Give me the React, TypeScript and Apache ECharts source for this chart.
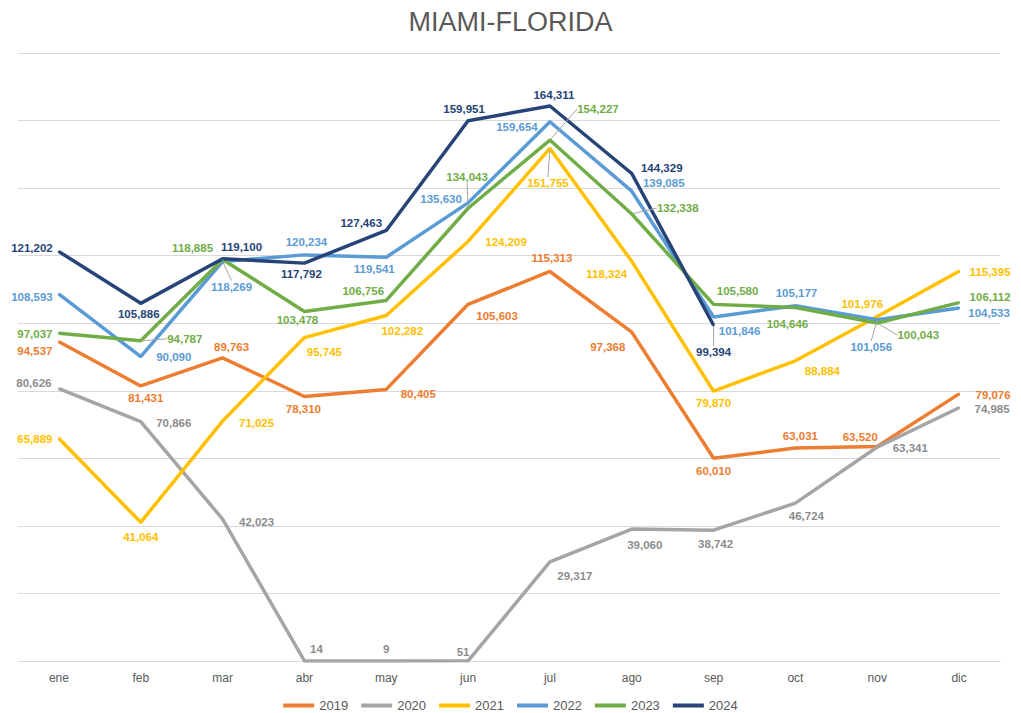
import React, { useEffect, useRef } from "react";
import * as echarts from "echarts";

const months = ["ene", "feb", "mar", "abr", "may", "jun", "jul", "ago", "sep", "oct", "nov", "dic"];
const years = ["2019", "2020", "2021", "2022", "2023", "2024"];

const v2019 = [94537, 81431, 89763, 78310, 80405, 105603, 115313, 97368, 60010, 63031, 63520, 79076];
const v2020 = [80626, 70866, 42023, 14, 9, 51, 29317, 39060, 38742, 46724, 63341, 74985];
const v2021 = [65889, 41064, 71025, 95745, 102282, 124209, 151755, 118324, 79870, 88884, 101976, 115395];
const v2022 = [108593, 90090, 118269, 120234, 119541, 135630, 159654, 139085, 101846, 105177, 101056, 104533];
const v2023 = [97037, 94787, 118885, 103478, 106756, 134043, 154227, 132338, 105580, 104646, 100043, 106112];
const v2024 = [121202, 105886, 119100, 117792, 127463, 159951, 164311, 144329, 99394, null, null, null];

const seriesValues = [v2019, v2020, v2021, v2022, v2023, v2024];

// layout (label offsets from each point, leader lines) kept separate from data
const lineColors = ["#ED7D31", "#A5A5A5", "#FFC000", "#5B9BD5", "#70AD47", "#264478"];
const labelColors = ["#ED7D31", "#8C8C8C", "#FFC000", "#5B9BD5", "#70AD47", "#264478"];
const labelOffsets: number[][][] = [
  [[-24, 9], [5, 12], [9, -11], [-1, 13], [32, 5], [29, 12], [2, -13], [-24, 15], [0, 13], [5, -12], [-17, -9], [34, 1]],
  [[-25, -6], [33, 1], [34, 3], [12, -12], [0, -12], [-5, -9], [25, 14], [13, 16], [2, 14], [11, 13], [33, 1], [33, 1]],
  [[-24, 1], [0, 15], [34, 2], [20, 14], [16, 15], [38, 1], [-2, 35], [-25, 13], [0, 12], [27, 10], [-15, -13], [31, 1]],
  [[-27, 3], [33, 0], [9, 25], [2, -13], [-12, 12], [-27, -4], [-33, 5], [32, -8], [26, 14], [1, -13], [-6, 27], [30, 5]],
  [[-24, 1], [44, -2], [-30, -11], [-7, 9], [-23, -9], [-1, -31], [48, -31], [46, -6], [24, -13], [-8, 16], [41, 12], [31, -6]],
  [[-27, -4], [-2, 11], [19, -12], [-3, 11], [-25, -7], [-4, -12], [4, -11], [30, -5], [0, 27], [0, 0], [0, 0], [0, 0]],
];
const leaders: number[][] = [[], [], [6], [2, 10], [1, 5, 6, 7, 10], [8]];

const FONT = "'Liberation Sans', Arial, sans-serif";

export default function App() {
  const ref = useRef<HTMLDivElement>(null);
  useEffect(() => {
    if (!ref.current) return;
    const chart = echarts.init(ref.current, undefined, { renderer: "svg" });
    const series = years.map((y, si) => ({
      name: y,
      type: "line",
      data: seriesValues[si].map((v, di) =>
        leaders[si].includes(di)
          ? { value: v, labelLine: { show: true, lineStyle: { color: "#A5A5A5", width: 1 } } }
          : { value: v }
      ),
      symbol: "circle",
      symbolSize: 2,
      showSymbol: true,
      connectNulls: false,
      lineStyle: { color: lineColors[si], width: 3.5 },
      itemStyle: { color: lineColors[si] },
      label: {
        show: true,
        position: "inside",
        color: labelColors[si],
        fontSize: 11.5,
        fontWeight: "bold",
        fontFamily: FONT,
        formatter: (p: any) => (p.value == null ? "" : Number(p.value).toLocaleString("en-US")),
      },
      labelLine: { show: false, lineStyle: { color: "#A5A5A5", width: 1 } },
      labelLayout: (params: any) => {
        const off = labelOffsets[params.seriesIndex][params.dataIndex] || [0, 0];
        return { dx: off[0], dy: off[1] };
      },
      emphasis: { disabled: true },
    }));
    chart.setOption({
      animation: false,
      backgroundColor: "#ffffff",
      textStyle: { fontFamily: FONT },
      title: {
        text: "MIAMI-FLORIDA",
        left: "center",
        top: 3,
        textStyle: { color: "#595959", fontSize: 27, fontWeight: "normal", fontFamily: FONT },
      },
      legend: {
        data: years,
        bottom: 1,
        left: "center",
        padding: 0,
        icon: "rect",
        itemWidth: 31,
        itemHeight: 4,
        itemGap: 13,
        textStyle: { color: "#595959", fontSize: 13, fontFamily: FONT },
      },
      grid: { left: 18, right: 21, top: 53, bottom: 52, containLabel: false },
      xAxis: {
        type: "category",
        data: months,
        boundaryGap: true,
        axisLine: { show: true, lineStyle: { color: "#D9D9D9", width: 1 } },
        axisTick: { show: false },
        axisLabel: { color: "#595959", fontSize: 12, margin: 11, fontFamily: FONT },
      },
      yAxis: {
        type: "value",
        min: 0,
        max: 180000,
        interval: 20000,
        axisLabel: { show: false },
        axisLine: { show: false },
        axisTick: { show: false },
        splitLine: { lineStyle: { color: "#D9D9D9", width: 1 } },
      },
      series,
    });
    return () => chart.dispose();
  }, []);
  return <div ref={ref} style={{ width: 1021, height: 713, position: "absolute", left: 0, top: 0 }} />;
}
